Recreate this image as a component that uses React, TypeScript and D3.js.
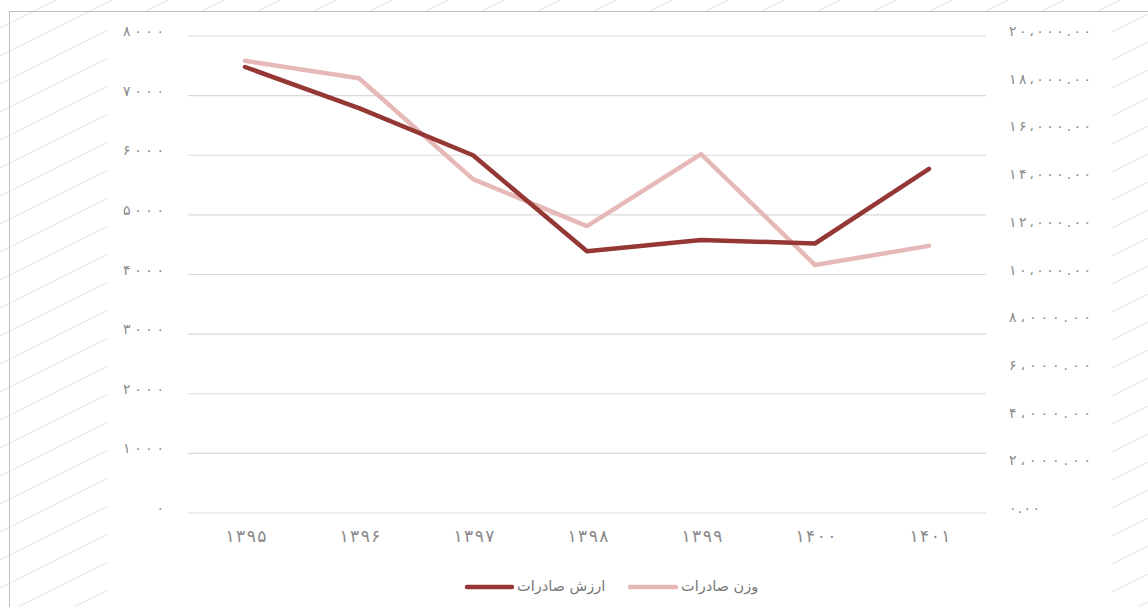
import * as d3 from "d3";

// categories (Persian years) and series
const years = ["۱۳۹۵", "۱۳۹۶", "۱۳۹۷", "۱۳۹۸", "۱۳۹۹", "۱۴۰۰", "۱۴۰۱"];
const exportValue = [7480, 6790, 6000, 4390, 4580, 4520, 5770]; // left axis
const exportWeight = [18960, 18230, 14000, 12030, 15050, 10400, 11200]; // right axis

const leftTicks = [0, 1000, 2000, 3000, 4000, 5000, 6000, 7000, 8000];
const rightTicks = [0, 2000, 4000, 6000, 8000, 10000, 12000, 14000, 16000, 18000, 20000];

const seriesNames = ["ارزش صادرات", "وزن صادرات"];

const W = 1148;
const H = 607;
const DARK = "#953735";
const LIGHT = "#e6b9b8";
const FONT = "'DejaVu Sans', sans-serif";
const LABEL = "#8a8a8a";

const faDigits = "۰۱۲۳۴۵۶۷۸۹";
const toFa = (s: string) => s.replace(/[0-9]/g, (d) => faDigits[+d]);

// 20000 -> ۲۰،۰۰۰.۰۰
const fmtRight = (v: number) => {
  if (v === 0) return toFa("0.00");
  const s = d3.format(",.2f")(v).replace(/,/g, "،");
  return toFa(s);
};

const App = () => {
  const plot = { left: 188, right: 986, top: 36, bottom: 513 };

  const x = d3
    .scaleBand<string>()
    .domain(years)
    .range([plot.left, plot.right]);

  const yL = d3.scaleLinear().domain([0, 8000]).range([plot.bottom, plot.top]);
  const yR = d3.scaleLinear().domain([0, 20000]).range([plot.bottom, plot.top]);

  const cx = (c: string) => (x(c) ?? 0) + x.bandwidth() / 2;

  const lineL = d3
    .line<number>()
    .x((_, i) => cx(years[i]))
    .y((d) => yL(d));
  const lineR = d3
    .line<number>()
    .x((_, i) => cx(years[i]))
    .y((d) => yR(d));

  return (
    <div style={{ position: "fixed", left: 0, top: 0, width: W, height: H }}>
      <svg width={W} height={H} style={{ display: "block" }} fontFamily={FONT}>
        <defs>
          <pattern id="hatch" patternUnits="userSpaceOnUse" width={56} height={28}>
            <line x1={0} y1={28} x2={56} y2={0} stroke="#e9e9e9" strokeWidth={1.2} />
          </pattern>
        </defs>
        <rect x={0} y={0} width={W} height={H} fill="url(#hatch)" />
        <rect x={107} y={11} width={1112 - 107} height={H} fill="#fff" />
        <rect x={9.5} y={11.5} width={1300} height={800} fill="none" stroke="#bfbfbf" />

        {/* gridlines */}
        {leftTicks.map((t) => (
          <line
            key={"g" + t}
            x1={plot.left}
            x2={plot.right}
            y1={yL(t)}
            y2={yL(t)}
            stroke="#d9d9d9"
            strokeWidth={1.2}
          />
        ))}

        {/* left axis labels */}
        {leftTicks.map((t) => {
          const s = toFa(String(t));
          return (
            <text
              key={"l" + t}
              x={164}
              y={yL(t) - 4}
              textAnchor="end"
              dominantBaseline="middle"
              fontSize={14}
              textLength={s.length > 1 ? 41 : undefined}
              lengthAdjust="spacing"
              fill={LABEL}
            >
              {s}
            </text>
          );
        })}

        {/* right axis labels */}
        {rightTicks.map((t) => {
          const s = fmtRight(t);
          return (
            <text
              key={"r" + t}
              x={1009}
              y={yR(t) - 4}
              textAnchor="start"
              dominantBaseline="middle"
              fontSize={14}
              textLength={s.length > 4 ? 82 : 31}
              lengthAdjust="spacing"
              fill={LABEL}
            >
              {s}
            </text>
          );
        })}

        {/* x labels */}
        {years.map((c) => (
          <text
            key={c}
            x={cx(c) + 1}
            y={537}
            textAnchor="middle"
            dominantBaseline="middle"
            fontSize={17}
            textLength={41}
            lengthAdjust="spacing"
            fill={LABEL}
          >
            {c}
          </text>
        ))}

        <path
          d={lineR(exportWeight) ?? ""}
          fill="none"
          stroke={LIGHT}
          strokeWidth={4.5}
          strokeLinecap="round"
          strokeLinejoin="round"
        />
        <path
          d={lineL(exportValue) ?? ""}
          fill="none"
          stroke={DARK}
          strokeWidth={4.5}
          strokeLinecap="round"
          strokeLinejoin="round"
        />

        {/* legend */}
        <line x1={467} x2={512} y1={587} y2={587} stroke={DARK} strokeWidth={4.5} strokeLinecap="round" />
        <text x={517} y={587} dominantBaseline="middle" fontSize={14.5} fill="#777">
          {seriesNames[0]}
        </text>
        <line x1={630} x2={676} y1={587} y2={587} stroke={LIGHT} strokeWidth={4.5} strokeLinecap="round" />
        <text x={681} y={587} dominantBaseline="middle" fontSize={14.5} fill="#777">
          {seriesNames[1]}
        </text>
      </svg>
    </div>
  );
};

export default App;
